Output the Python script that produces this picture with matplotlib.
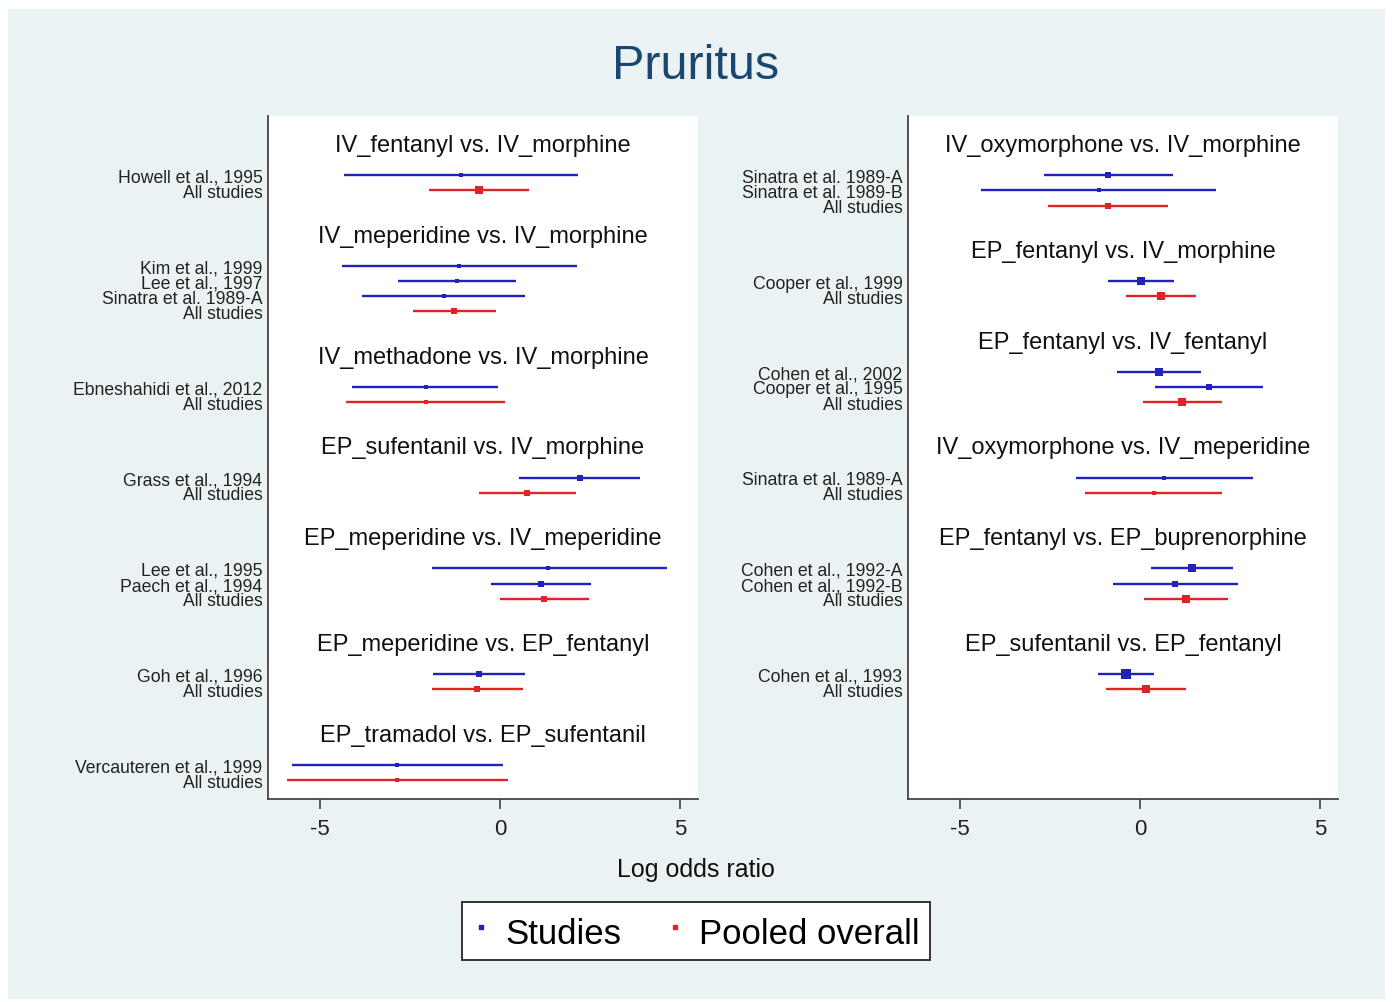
import numpy as np
import matplotlib
matplotlib.use("Agg")
import matplotlib.pyplot as plt
from matplotlib.lines import Line2D
from matplotlib.patches import Rectangle

plt.rcParams['font.family'] = ['Liberation Sans', 'DejaVu Sans']

# ---- left column ----
left_titles = ["IV_fentanyl vs. IV_morphine", "IV_meperidine vs. IV_morphine",
               "IV_methadone vs. IV_morphine", "EP_sufentanil vs. IV_morphine",
               "EP_meperidine vs. IV_meperidine", "EP_meperidine vs. EP_fentanyl",
               "EP_tramadol vs. EP_sufentanil"]
left_studies = [["Howell et al., 1995"],
                ["Kim et al., 1999", "Lee et al., 1997", "Sinatra et al. 1989-A"],
                ["Ebneshahidi et al., 2012"],
                ["Grass et al., 1994"],
                ["Lee et al., 1995", "Paech et al., 1994"],
                ["Goh et al., 1996"],
                ["Vercauteren et al., 1999"]]
left_est = [[-1.08], [-1.14, -1.19, -1.56], [-2.06], [2.22], [1.33, 1.14], [-0.58], [-2.86]]
left_lo = [[-4.33], [-4.39, -2.83, -3.83], [-4.11], [0.53], [-1.89, -0.25], [-1.86], [-5.78]]
left_hi = [[2.17], [2.14, 0.44, 0.69], [-0.06], [3.89], [4.64, 2.53], [0.69], [0.08]]
left_wt = [[4], [3, 4, 3], [3], [5], [3, 5], [6], [3]]
left_pool_est = [-0.58, -1.28, -2.06, 0.75, 1.22, -0.64, -2.86]
left_pool_lo = [-1.97, -2.42, -4.28, -0.58, 0.00, -1.89, -5.92]
left_pool_hi = [0.81, -0.11, 0.14, 2.11, 2.47, 0.64, 0.22]
left_pool_wt = [7, 6, 3, 6, 6, 6, 3]

# ---- right column ----
right_titles = ["IV_oxymorphone vs. IV_morphine", "EP_fentanyl vs. IV_morphine",
                "EP_fentanyl vs. IV_fentanyl", "IV_oxymorphone vs. IV_meperidine",
                "EP_fentanyl vs. EP_buprenorphine", "EP_sufentanil vs. EP_fentanyl"]
right_studies = [["Sinatra et al. 1989-A", "Sinatra et al. 1989-B"],
                 ["Cooper et al., 1999"],
                 ["Cohen et al., 2002", "Cooper et al., 1995"],
                 ["Sinatra et al. 1989-A"],
                 ["Cohen et al., 1992-A", "Cohen et al., 1992-B"],
                 ["Cohen et al., 1993"]]
right_est = [[-0.89, -1.14], [0.03], [0.53, 1.92], [0.67], [1.44, 0.97], [-0.39]]
right_lo = [[-2.67, -4.42], [-0.89], [-0.64, 0.42], [-1.78], [0.31, -0.75], [-1.17]]
right_hi = [[0.92, 2.11], [0.94], [1.69, 3.42], [3.14], [2.58, 2.72], [0.39]]
right_wt = [[6, 3], [8], [7, 5], [3], [7, 5], [9]]
right_pool_est = [-0.89, 0.58, 1.17, 0.39, 1.28, 0.17]
right_pool_lo = [-2.56, -0.39, 0.08, -1.53, 0.11, -0.94]
right_pool_hi = [0.78, 1.56, 2.28, 2.28, 2.44, 1.28]
right_pool_wt = [6, 8, 7, 4, 7, 7]

BLUE = "#2222BB"
RED = "#E02426"
W, H = 1399, 1003


def draw_panel(ax, titles, studies, est, lo, hi, wt, p_est, p_lo, p_hi, p_wt):
    xmin, xmax = -6.44, 5.5
    row = 0
    ticks, labels = [], []
    for g in range(len(titles)):
        ax.text((xmin + xmax) / 2, row, titles[g], ha='center', va='center', fontsize=17, color='#111111')
        r = row + 2
        for i, name in enumerate(studies[g]):
            ax.plot([lo[g][i], hi[g][i]], [r, r], color=BLUE, lw=1.7, solid_capstyle='butt')
            ax.plot(est[g][i], r, 's', color=BLUE, ms=wt[g][i] * 0.8, mew=0)
            ticks.append(r)
            labels.append(name)
            r += 1
        ax.plot([p_lo[g], p_hi[g]], [r, r], color=RED, lw=1.7, solid_capstyle='butt')
        ax.plot(p_est[g], r, 's', color=RED, ms=p_wt[g] * 0.8, mew=0)
        ticks.append(r)
        labels.append("All studies")
        row = r + 3
    ax.set_xlim(xmin, xmax)
    ax.set_ylim(43.25, -1.92)
    ax.set_yticks(ticks)
    ax.set_yticklabels(labels, fontsize=12.7, color='#222222')
    ax.tick_params(axis='y', length=0, pad=4)
    ax.set_xticks([-5, 0, 5])
    ax.set_xticklabels(["-5", "0", "5"], fontsize=16, color='#222222')
    ax.tick_params(axis='x', length=7, width=1.2, color='#444444', pad=7)
    for s in ['top', 'right']:
        ax.spines[s].set_visible(False)
    for s in ['left', 'bottom']:
        ax.spines[s].set_color('#444444')
        ax.spines[s].set_linewidth(1.3)
    ax.set_facecolor('white')


fig = plt.figure(figsize=(W / 100, H / 100), dpi=100, facecolor='white')
fig.patches.append(Rectangle((8 / W, 1 - 1000 / H), 1377 / W, 990 / H, transform=fig.transFigure,
                             facecolor='#EAF2F3', edgecolor='none', zorder=-1))

ax1 = fig.add_axes([268 / W, 1 - 800 / H, 430 / W, 683 / H])
ax2 = fig.add_axes([908 / W, 1 - 800 / H, 430 / W, 683 / H])
draw_panel(ax1, left_titles, left_studies, left_est, left_lo, left_hi, left_wt,
           left_pool_est, left_pool_lo, left_pool_hi, left_pool_wt)
draw_panel(ax2, right_titles, right_studies, right_est, right_lo, right_hi, right_wt,
           right_pool_est, right_pool_lo, right_pool_hi, right_pool_wt)

fig.text(696 / W, 1 - 67 / H, "Pruritus", ha='center', va='center', fontsize=35, color='#1A476F')
fig.text(696 / W, 1 - 870 / H, "Log odds ratio", ha='center', va='center', fontsize=18, color='#111111')

handles = [Line2D([], [], marker='s', ls='none', color=BLUE, ms=3),
           Line2D([], [], marker='s', ls='none', color=RED, ms=3)]
leg = fig.legend(handles, ["Studies", "Pooled overall"], loc='center',
                 bbox_to_anchor=(696 / W, 1 - 932 / H), ncol=2, fontsize=25,
                 frameon=True, fancybox=False, edgecolor='#222222', facecolor='white',
                 handlelength=0.5, handleheight=1.3, handletextpad=0.45,
                 columnspacing=1.3, borderpad=0.3)
leg.get_frame().set_linewidth(1.3)
leg.get_frame().set_alpha(1)

fig.savefig("out.png", dpi=100, facecolor=fig.get_facecolor())
